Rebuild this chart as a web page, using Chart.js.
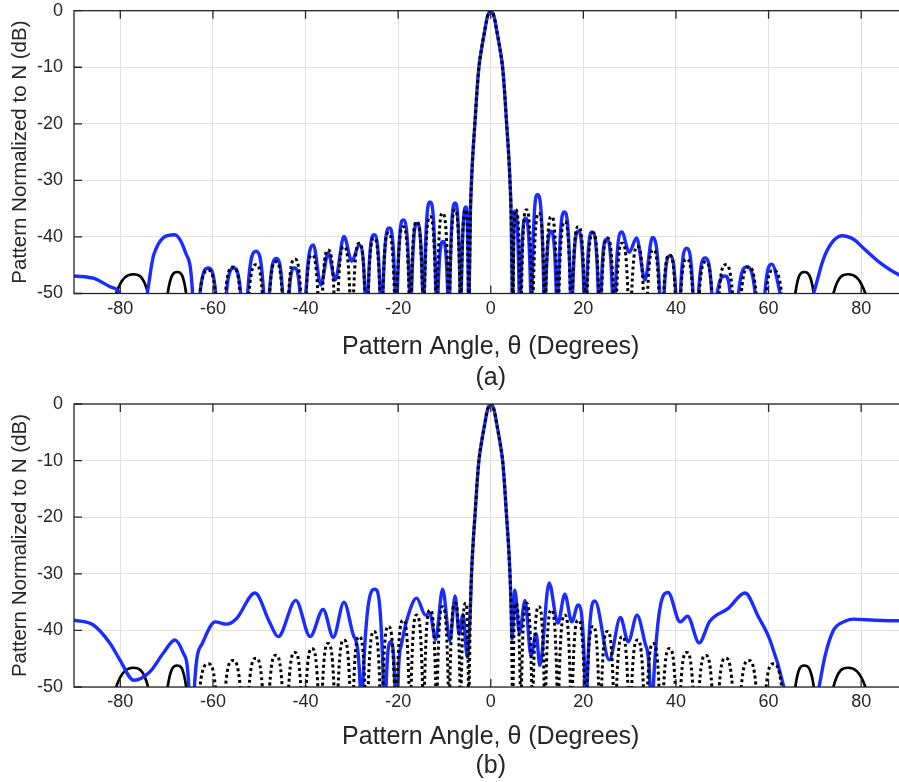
<!DOCTYPE html>
<html><head><meta charset="utf-8">
<script src="https://cdn.jsdelivr.net/npm/chart.js@4.4.0/dist/chart.umd.min.js"></script>
<style>
html,body{margin:0;padding:0;background:#fff;overflow:hidden;width:899px;height:782px;}
#wrap{position:relative;width:899px;height:782px;overflow:hidden;background:#fff;}
canvas{position:absolute;left:0;}
</style></head><body>
<div id="wrap">
<canvas id="ca" width="920" height="395" style="top:0;width:920px;height:395px"></canvas>
<canvas id="cb" width="920" height="389" style="top:393px;width:920px;height:389px"></canvas>
</div>
<script>
// ---- Data (angle in degrees, pattern in dB; values below -50 are off-axis nulls) ----
const xTicks = [-80, -60, -40, -20, 0, 20, 40, 60, 80];
const yTicks = [-50, -40, -30, -20, -10, 0];

// main beam shared by all curves
const mainLobe = [[-4.4,-36],[-4.15,-30],[-3.8,-24.5],[-3.43,-20],[-3.0,-14.5],[-2.56,-10],[-2.0,-6.8],[-1.4,-4],[-0.7,-1.0],[0,0],[0.7,-1.0],[1.4,-4],[2.0,-6.8],[2.56,-10],[3.0,-14.5],[3.43,-20],[3.8,-24.5],[4.15,-30],[4.4,-36]];

// black dotted reference pattern (inner region)
const dottedLeft = [[-64.2,-75],[-62.82,-50],[-61.0,-45.9],[-59.46,-50],[-58.3,-75],[-57.3,-50],[-55.7,-45.3],[-54.1,-50],[-53.1,-75],[-52.2,-50],[-50.7,-44.9],[-49.33,-50],[-48.5,-75],[-47.76,-50],[-46.4,-44.4],[-45.04,-50],[-44.3,-75],[-43.64,-50],[-42.3,-43.9],[-41.03,-50],[-40.4,-75],[-39.86,-50],[-38.6,-43.2],[-37.34,-50],[-36.8,-75],[-36.34,-50],[-35.1,-42.3],[-33.86,-50],[-33.4,-75],[-32.97,-50],[-31.7,-41.7],[-30.43,-50],[-30.0,-75],[-29.62,-50],[-28.4,-41.1],[-27.18,-50],[-26.8,-75],[-26.46,-50],[-25.2,-40.2],[-23.94,-50],[-23.6,-75],[-23.3,-50],[-22.1,-39.3],[-20.8,-50],[-20.5,-75],[-20.24,-50],[-18.9,-38.2],[-17.65,-50],[-17.4,-75],[-17.19,-50],[-16.0,-37.3],[-14.72,-50],[-14.5,-75],[-14.31,-50],[-13.1,-36.4],[-11.89,-50],[-11.7,-75],[-11.54,-50],[-10.4,-35.8],[-9.17,-50],[-9.0,-75],[-8.85,-50],[-7.7,-35.2],[-6.64,-50],[-6.5,-75],[-6.37,-50],[-5.4,-35.2],[-4.83,-50],[-4.75,-75],[-4.64,-50],[-4.56,-45]];
const dottedRight = [[4.56,-45],[4.64,-50],[4.75,-75],[4.83,-50],[5.4,-35.2],[6.37,-50],[6.5,-75],[6.64,-50],[7.7,-35.2],[8.85,-50],[9.0,-75],[9.17,-50],[10.4,-35.8],[11.54,-50],[11.7,-75],[11.89,-50],[13.1,-36.4],[14.31,-50],[14.5,-75],[14.72,-50],[16.0,-37.3],[17.19,-50],[17.4,-75],[17.65,-50],[18.9,-38.2],[20.24,-50],[20.5,-75],[20.8,-50],[22.1,-39.3],[23.3,-50],[23.6,-75],[23.94,-50],[25.2,-40.2],[26.46,-50],[26.8,-75],[27.18,-50],[28.4,-41.1],[29.62,-50],[30.0,-75],[30.43,-50],[31.7,-41.7],[32.97,-50],[33.4,-75],[33.86,-50],[35.1,-42.3],[36.34,-50],[36.8,-75],[37.34,-50],[38.6,-43.2],[39.86,-50],[40.4,-75],[41.03,-50],[42.3,-43.9],[43.64,-50],[44.3,-75],[45.04,-50],[46.4,-44.4],[47.76,-50],[48.5,-75],[49.33,-50],[50.7,-44.9],[52.2,-50],[53.1,-75],[54.1,-50],[55.7,-45.3],[57.3,-50],[58.3,-75],[59.46,-50],[61.0,-45.9],[62.82,-50],[64.2,-75]];

// black solid reference pattern (wide angles)
const solidLeft = [[-90,-75],[-84,-62],[-80.9,-50],[-77.2,-46.6],[-74.0,-50],[-72.0,-75],[-69.77,-50],[-67.7,-46.2],[-65.78,-50],[-64.2,-75]];
const solidRight = [[64.2,-75],[65.78,-50],[67.7,-46.2],[69.77,-50],[72.0,-75],[74.0,-50],[77.2,-46.6],[80.9,-50],[84,-62],[90,-75]];

// blue pattern, panel (a)
const blueALeft = [[-90,-46.9],[-85.8,-47.3],[-82.2,-48.8],[-80.1,-50],[-77.3,-60],[-74.2,-50],[-72.8,-43.2],[-68.3,-39.6],[-65.9,-42.8],[-64.4,-50],[-63.6,-75],[-62.8,-50],[-61.0,-45.5],[-59.4,-50],[-58.3,-75],[-57.1,-50],[-55.5,-45.5],[-54.0,-50],[-53.2,-75],[-52.5,-50],[-50.7,-42.5],[-49.05,-50],[-48.5,-75],[-47.8,-50],[-46.3,-43.8],[-44.95,-50],[-44.3,-75],[-43.55,-50],[-42.4,-45.5],[-41.2,-50],[-40.4,-75],[-39.9,-50],[-38.3,-41.4],[-36.7,-48.5],[-35.1,-42.8],[-33.6,-47.6],[-31.7,-39.9],[-30.0,-44.3],[-28.4,-41.4],[-27.15,-50],[-26.8,-75],[-26.5,-50],[-25.2,-39.6],[-23.9,-50],[-23.6,-75],[-23.3,-50],[-21.9,-38.4],[-20.65,-50],[-20.4,-75],[-20.18,-50],[-18.9,-37.0],[-17.53,-50],[-17.3,-75],[-17.1,-50],[-15.9,-37.6],[-14.7,-50],[-14.5,-75],[-14.36,-50],[-13.1,-33.8],[-11.84,-50],[-11.7,-75],[-11.4,-50],[-10.3,-40.8],[-9.3,-50],[-9.0,-75],[-8.87,-50],[-7.7,-34.0],[-6.62,-50],[-6.5,-75],[-6.37,-50],[-5.35,-34.7],[-4.82,-50],[-4.75,-75],[-4.64,-50],[-4.56,-45]];
const blueARight = [[4.56,-45],[4.64,-50],[4.75,-75],[4.8,-50],[5.2,-35.4],[6.13,-50],[6.3,-75],[6.47,-50],[7.5,-36.7],[8.62,-50],[8.8,-75],[8.9,-50],[10.1,-32.5],[11.48,-50],[11.6,-75],[11.85,-50],[13.0,-39.0],[14.15,-50],[14.4,-75],[14.58,-50],[15.9,-35.6],[17.22,-50],[17.4,-75],[17.67,-50],[18.9,-39.0],[20.13,-50],[20.4,-75],[20.67,-50],[21.9,-39.1],[23.22,-50],[23.5,-75],[23.82,-50],[25.0,-40.4],[26.27,-50],[26.6,-75],[26.9,-50],[28.3,-39.1],[29.9,-42.7],[31.5,-40.2],[33.3,-47.6],[34.9,-40.1],[36.48,-50],[36.9,-75],[37.44,-50],[38.7,-43.3],[39.96,-50],[40.5,-75],[40.97,-50],[42.3,-42.0],[43.68,-50],[44.2,-75],[44.87,-50],[46.3,-43.7],[47.73,-50],[48.4,-75],[48.9,-50],[50.6,-46.9],[51.7,-50],[53.0,-75],[53.5,-50],[55.3,-45.3],[57.1,-50],[58.1,-75],[59.2,-50],[60.7,-44.8],[62.5,-50],[65.0,-60],[69.7,-50],[71.8,-44.0],[73.5,-41.2],[75.8,-39.8],[78.5,-40.5],[80.5,-42.0],[84.1,-44.6],[88.2,-46.7],[90,-47.1]];

// blue pattern, panel (b)
const blueBLeft = [[-90,-38.2],[-85.9,-39.0],[-82.2,-42.3],[-80.1,-45.2],[-77.1,-48.8],[-73.6,-47.3],[-70.7,-44.0],[-68.2,-41.7],[-66.4,-44.0],[-65.2,-50],[-64.6,-75],[-64.0,-50],[-62.3,-42.3],[-59.5,-38.5],[-57.0,-38.9],[-55.0,-38.0],[-50.9,-33.4],[-47.8,-38.5],[-45.9,-41.1],[-42.1,-34.7],[-39.0,-41.1],[-36.2,-36.3],[-34.0,-41.2],[-31.7,-35.0],[-29.6,-41.0],[-28.2,-50],[-27.9,-75],[-27.65,-50],[-25.0,-32.7],[-23.17,-50],[-23.0,-75],[-22.6,-50],[-21.6,-42.0],[-20.7,-50],[-20.3,-75],[-20.05,-50],[-19.3,-42.5],[-18.2,-38.4],[-16.0,-34.3],[-14.1,-37.3],[-13.2,-36.9],[-11.9,-41.6],[-10.4,-32.7],[-8.8,-41.8],[-7.7,-33.9],[-6.8,-40.7],[-6.0,-37.2],[-5.05,-44.8]];
const blueBRight = [[4.6,-41.5],[5.2,-32.9],[6.2,-40.5],[7.4,-34.7],[8.7,-44.5],[9.8,-40.6],[10.6,-46.2],[12.6,-31.6],[14.5,-38.7],[16.0,-33.6],[17.5,-38.5],[18.85,-35.5],[20.39,-50],[20.6,-75],[20.81,-50],[22.5,-34.8],[25.6,-45.2],[28.0,-37.7],[29.7,-42.0],[31.6,-37.3],[33.4,-42.5],[34.4,-50],[34.75,-75],[35.1,-50],[38.3,-33.3],[40.9,-38.5],[42.5,-37.5],[45.0,-42.2],[47.3,-38.4],[51.3,-36.1],[54.9,-33.4],[57.8,-37.6],[60.3,-41.7],[63.3,-50],[65.5,-60],[68.5,-60],[70.9,-50],[72.2,-44.5],[74.0,-40.0],[76.5,-38.4],[78.3,-38.0],[83.0,-38.2],[88.2,-38.3],[90,-38.3]];

const xLabel = 'Pattern Angle, \u03b8 (Degrees)';
const yLabel = 'Pattern Normalized to N (dB)';

// ---- helpers ----
const toXY = arr => arr.map(p => ({x: p[0], y: p[1]}));
const FONT = "'Liberation Sans', Arial, Helvetica, sans-serif";
const INK = '#262626';

const boxPlugin = {
  id: 'matlabBox',
  afterDatasetsDraw(chart) {
    const {ctx, chartArea: a, scales: {x, y}} = chart;
    ctx.save();
    ctx.strokeStyle = INK;
    ctx.lineWidth = 1.3;
    ctx.strokeRect(a.left, a.top, a.right - a.left, a.bottom - a.top);
    ctx.beginPath();
    x.ticks.forEach(t => {
      const px = x.getPixelForValue(t.value);
      ctx.moveTo(px, a.bottom); ctx.lineTo(px, a.bottom - 8);
      ctx.moveTo(px, a.top); ctx.lineTo(px, a.top + 8);
    });
    y.ticks.forEach(t => {
      const py = y.getPixelForValue(t.value);
      ctx.moveTo(a.left, py); ctx.lineTo(a.left + 8, py);
      ctx.moveTo(a.right, py); ctx.lineTo(a.right - 8, py);
    });
    ctx.stroke();
    ctx.restore();
  }
};

function buildChart(id, blueLeft, blueRight, caption, g) {
  const dotted = toXY(dottedLeft.concat(mainLobe, dottedRight));
  const blue = toXY(blueLeft.concat(mainLobe, blueRight));
  const solid = toXY(solidLeft).concat([{x: 0, y: null}], toXY(solidRight));
  return new Chart(document.getElementById(id), {
    type: 'line',
    data: {
      datasets: [
        {label: 'dotted', data: dotted, borderColor: '#000', borderWidth: 3, borderDash: [3, 3], order: 0},
        {label: 'blue', data: blue, borderColor: '#1a2cff', borderWidth: 3.4, order: 1},
        {label: 'solid', data: solid, borderColor: '#000', borderWidth: 2.7, order: 2, spanGaps: false}
      ]
    },
    options: {
      responsive: false,
      animation: false,
      events: [],
      layout: {padding: {top: g.padTop, right: 12.5, left: 0, bottom: 0}},
      elements: {
        point: {radius: 0},
        line: {cubicInterpolationMode: 'monotone', capBezierPoints: false, borderJoinStyle: 'round', fill: false}
      },
      datasets: {line: {clip: 0, pointRadius: 0}},
      plugins: {legend: {display: false}, tooltip: {enabled: false}},
      scales: {
        x: {
          type: 'linear', min: -90, max: 90,
          afterBuildTicks(s) { s.ticks = xTicks.map(v => ({value: v})); },
          ticks: {maxRotation: 0, autoSkip: false, padding: g.tickPad, color: INK, font: {family: FONT, size: 18}},
          grid: {color: '#e2e2e2', lineWidth: 1, drawTicks: false},
          border: {display: false},
          title: {display: true, text: [xLabel, caption], color: INK,
                  font: {family: FONT, size: 25, lineHeight: g.titleLH + 'px'},
                  padding: {top: 0, bottom: g.titlePadB}},
          afterFit(s) { s.height = g.xH; s.paddingLeft = 0; s.paddingRight = 0; }
        },
        y: {
          type: 'linear', min: -50, max: 0,
          afterBuildTicks(s) { s.ticks = yTicks.map(v => ({value: v})); },
          ticks: {padding: 11, color: INK, font: {family: FONT, size: 18}},
          grid: {color: '#e2e2e2', lineWidth: 1, drawTicks: false},
          border: {display: false},
          title: {display: true, text: yLabel, color: INK, font: {family: FONT, size: 20.5},
                  padding: {top: 8, bottom: 0}},
          afterFit(s) { s.width = 74; s.paddingTop = 0; s.paddingBottom = 0; }
        }
      }
    },
    plugins: [boxPlugin]
  });
}

buildChart('ca', blueALeft, blueARight, '(a)', {padTop: 10.7, xH: 101.5, tickPad: 4.5, titleLH: 31, titlePadB: 1});
buildChart('cb', blueBLeft, blueBRight, '(b)', {padTop: 11, xH: 95, tickPad: 4.5, titleLH: 29, titlePadB: 1});
</script>
</body></html>
